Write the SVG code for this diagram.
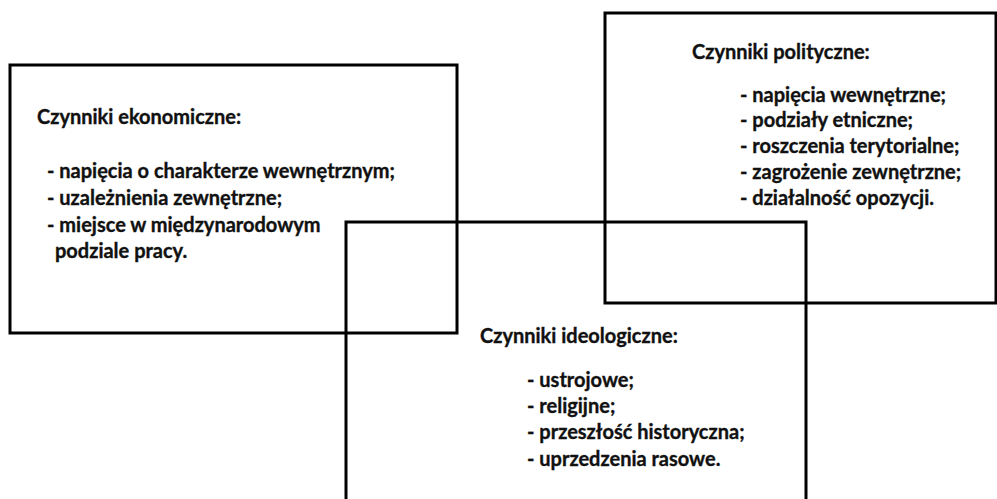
<svg xmlns="http://www.w3.org/2000/svg" width="997" height="499" viewBox="0 0 997 499">
<style>
.box{fill:none;stroke:#000;stroke-width:3}
.t{font-family:Lato,"Liberation Sans",sans-serif;font-weight:bold;font-size:20px;fill:#111;stroke:#111;stroke-width:0.35}
</style>
<rect width="997" height="499" fill="#fff"/>
<g id="connectors"></g>
<g id="ekonomiczne">
<rect class="box" x="10" y="65" width="447" height="268"/>
<text class="t" x="37" y="124">Czynniki ekonomiczne:</text>
<text class="t" x="47" y="178">- napięcia o charakterze wewnętrznym;</text>
<text class="t" x="47" y="205">- uzależnienia zewnętrzne;</text>
<text class="t" x="47" y="232">- miejsce w międzynarodowym</text>
<text class="t" x="55" y="258">podziale pracy.</text>
</g>
<g id="polityczne">
<rect class="box" x="605" y="13" width="391" height="290"/>
<text class="t" x="692" y="59">Czynniki polityczne:</text>
<text class="t" x="740" y="102">- napięcia wewnętrzne;</text>
<text class="t" x="740" y="127">- podziały etniczne;</text>
<text class="t" x="740" y="153">- roszczenia terytorialne;</text>
<text class="t" x="740" y="179">- zagrożenie zewnętrzne;</text>
<text class="t" x="740" y="205">- działalność opozycji.</text>
</g>
<g id="ideologiczne">
<polyline class="box" points="346,510 346,222 806,222 806,510"/>
<text class="t" x="480" y="343">Czynniki ideologiczne:</text>
<text class="t" x="527" y="387">- ustrojowe;</text>
<text class="t" x="527" y="413">- religijne;</text>
<text class="t" x="527" y="439">- przeszłość historyczna;</text>
<text class="t" x="527" y="466">- uprzedzenia rasowe.</text>
</g>
</svg>
